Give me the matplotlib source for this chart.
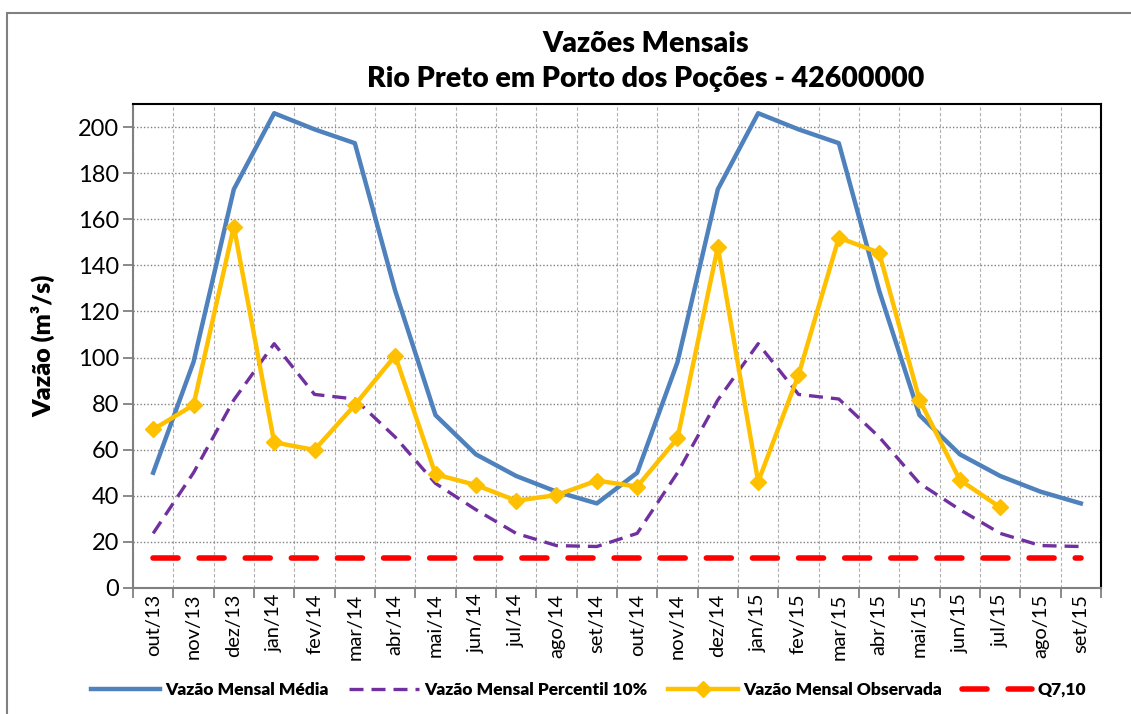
import numpy as np
import matplotlib; matplotlib.use("Agg")
import matplotlib.pyplot as plt
from matplotlib.patches import Rectangle

plt.rcParams["font.family"] = ["Lato", "DejaVu Sans"]

MESES = ["out/13","nov/13","dez/13","jan/14","fev/14","mar/14","abr/14","mai/14",
         "jun/14","jul/14","ago/14","set/14","out/14","nov/14","dez/14","jan/15",
         "fev/15","mar/15","abr/15","mai/15","jun/15","jul/15","ago/15","set/15"]

MEDIA_ANO = [50, 98, 173, 206, 199, 193, 129, 75, 58, 48.6, 41.8, 36.7]
P10_ANO = [23.7, 50, 81.6, 106, 84, 82, 65.5, 45.4, 34, 23.7, 18.4, 18]
MEDIA = MEDIA_ANO + MEDIA_ANO
P10 = P10_ANO + P10_ANO
OBS = [68.8, 79.4, 156.8, 63.2, 59.9, 79.4, 100.8, 49.3, 44.7, 37.9, 40.3, 46.6,
       44, 65, 148, 46.1, 92.4, 152, 145.5, 81.6, 46.9, 35]
Q710 = 13.2

fig = plt.figure(figsize=(11.31, 7.14), dpi=100)
ax = fig.add_axes([133/1131, 1-588/714, (1101-133)/1131, (588-104)/714])

x = np.arange(len(MESES))
ax.plot(x, MEDIA, color="#4F81BD", lw=3.2, label="Vazão Mensal Média", zorder=3)
ax.plot(x, P10, color="#7030A0", lw=2.4, ls=(0, (4.2, 2.4)),
        label="Vazão Mensal Percentil 10%", zorder=3)
ax.plot(x[:len(OBS)], OBS, color="#FFC000", lw=3.2, marker="D", ms=8.5,
        label="Vazão Mensal Observada", zorder=4)
ax.plot(x, [Q710]*len(x), color="#FF0000", lw=4, ls=(0, (4.5, 3.8)),
        label="Q7,10", zorder=3, solid_capstyle="round", dash_capstyle="round")

ax.set_xlim(-0.5, len(MESES)-0.5)
ax.set_ylim(0, 210)
ax.set_yticks(np.arange(0, 201, 20))
ax.set_xticks(np.arange(-0.5, len(MESES)), [])
ax.set_xticks(x, MESES, minor=True, rotation=90)
ax.tick_params(axis="x", which="major", length=7, width=1.3, color="#808080", direction="out")
ax.tick_params(axis="x", which="minor", length=0, labelsize=14.5, pad=4)
ax.tick_params(axis="y", length=7, width=1.3, color="#808080", labelsize=17, pad=3)
ax.grid(axis="x", which="major", color="#B0B0B0", ls=(0, (3, 2)), lw=0.8)
ax.grid(axis="y", which="major", color="#808080", ls=(0, (1, 1.5)), lw=1.0)
ax.set_axisbelow(True)
for s in ["left", "bottom"]:
    ax.spines[s].set_color("#808080"); ax.spines[s].set_linewidth(1.5)
for s in ["top", "right"]:
    ax.spines[s].set_color("black"); ax.spines[s].set_linewidth(1.5)

ax.set_ylabel("Vazão (m³/s)", fontsize=18, fontweight="heavy", labelpad=16)
fig.text(0.571, 0.914, "Vazões Mensais\nRio Preto em Porto dos Poções - 42600000",
         ha="center", va="center", fontsize=20.5, fontweight="heavy", linespacing=1.4)

leg = fig.legend(loc="center", bbox_to_anchor=(0.52, 1-690/714), ncol=4, frameon=False,
                 prop={"weight": "heavy", "size": 12.5}, handlelength=4.0,
                 columnspacing=1.2, handletextpad=0.3)

fig.patches.append(Rectangle((7/1131, -0.05), 1.1, 1-13/714+0.05, transform=fig.transFigure,
                             fill=False, edgecolor="#808080", lw=1.5))

fig.savefig("out.png", dpi=100)
